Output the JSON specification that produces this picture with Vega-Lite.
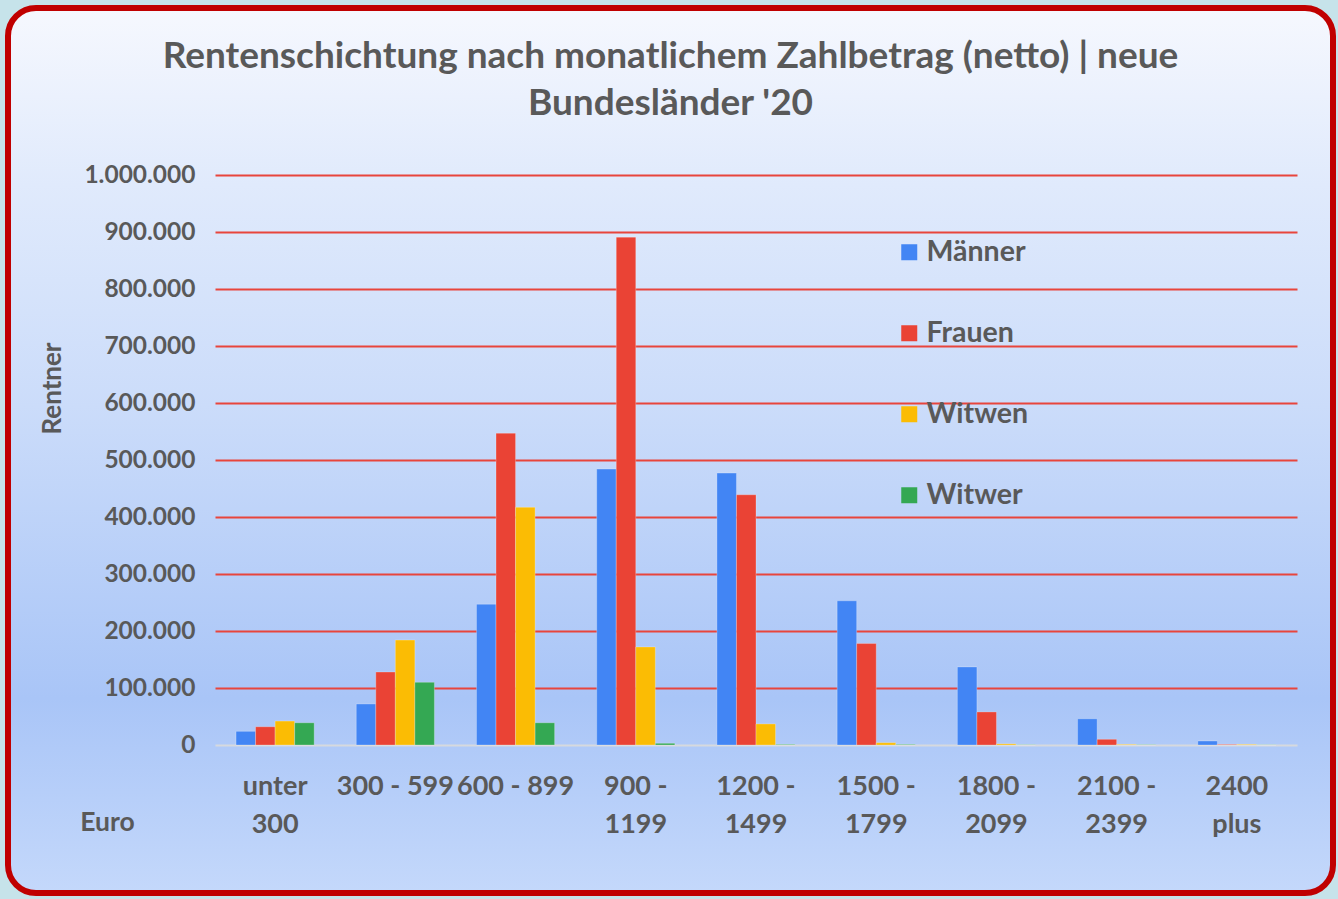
{
  "$schema": "https://vega.github.io/schema/vega-lite/v6.json",
  "width": 1325,
  "height": 885,
  "autosize": {"type": "none"},
  "padding": {"left": 8, "top": 8, "right": 5, "bottom": 6},
  "background": "#c6e3ea",
  "view": {
    "fill": {
      "gradient": "linear",
      "x1": 0, "y1": 0, "x2": 0, "y2": 1,
      "stops": [
        {"offset": 0, "color": "#f6f8fe"},
        {"offset": 0.2, "color": "#e0eafc"},
        {"offset": 0.45, "color": "#cbdcfa"},
        {"offset": 0.78, "color": "#a9c5f7"},
        {"offset": 1, "color": "#c4d8fb"}
      ]
    },
    "stroke": "#c00000",
    "strokeWidth": 6,
    "cornerRadius": 28
  },
  "title": {
    "text": ["Rentenschichtung nach monatlichem Zahlbetrag (netto) | neue", "Bundesländer '20"],
    "font": "Lato",
    "fontSize": 37,
    "fontWeight": "bold",
    "color": "#595959",
    "lineHeight": 47,
    "anchor": "middle",
    "frame": "group",
    "offset": -115
  },
  "data": {
    "values": [
      {"Betrag": "unter 300", "Gruppe": "Männer", "Anzahl": 24000},
      {"Betrag": "unter 300", "Gruppe": "Frauen", "Anzahl": 32000},
      {"Betrag": "unter 300", "Gruppe": "Witwen", "Anzahl": 42000},
      {"Betrag": "unter 300", "Gruppe": "Witwer", "Anzahl": 39000},
      {"Betrag": "300 - 599", "Gruppe": "Männer", "Anzahl": 72000},
      {"Betrag": "300 - 599", "Gruppe": "Frauen", "Anzahl": 128000},
      {"Betrag": "300 - 599", "Gruppe": "Witwen", "Anzahl": 184000},
      {"Betrag": "300 - 599", "Gruppe": "Witwer", "Anzahl": 110000},
      {"Betrag": "600 - 899", "Gruppe": "Männer", "Anzahl": 247000},
      {"Betrag": "600 - 899", "Gruppe": "Frauen", "Anzahl": 547000},
      {"Betrag": "600 - 899", "Gruppe": "Witwen", "Anzahl": 417000},
      {"Betrag": "600 - 899", "Gruppe": "Witwer", "Anzahl": 39000},
      {"Betrag": "900 - 1199", "Gruppe": "Männer", "Anzahl": 484000},
      {"Betrag": "900 - 1199", "Gruppe": "Frauen", "Anzahl": 891000},
      {"Betrag": "900 - 1199", "Gruppe": "Witwen", "Anzahl": 172000},
      {"Betrag": "900 - 1199", "Gruppe": "Witwer", "Anzahl": 3000},
      {"Betrag": "1200 - 1499", "Gruppe": "Männer", "Anzahl": 477000},
      {"Betrag": "1200 - 1499", "Gruppe": "Frauen", "Anzahl": 439000},
      {"Betrag": "1200 - 1499", "Gruppe": "Witwen", "Anzahl": 37000},
      {"Betrag": "1200 - 1499", "Gruppe": "Witwer", "Anzahl": 1000},
      {"Betrag": "1500 - 1799", "Gruppe": "Männer", "Anzahl": 253000},
      {"Betrag": "1500 - 1799", "Gruppe": "Frauen", "Anzahl": 178000},
      {"Betrag": "1500 - 1799", "Gruppe": "Witwen", "Anzahl": 4000},
      {"Betrag": "1500 - 1799", "Gruppe": "Witwer", "Anzahl": 1000},
      {"Betrag": "1800 - 2099", "Gruppe": "Männer", "Anzahl": 137000},
      {"Betrag": "1800 - 2099", "Gruppe": "Frauen", "Anzahl": 58000},
      {"Betrag": "1800 - 2099", "Gruppe": "Witwen", "Anzahl": 2000},
      {"Betrag": "1800 - 2099", "Gruppe": "Witwer", "Anzahl": 500},
      {"Betrag": "2100 - 2399", "Gruppe": "Männer", "Anzahl": 46000},
      {"Betrag": "2100 - 2399", "Gruppe": "Frauen", "Anzahl": 10000},
      {"Betrag": "2100 - 2399", "Gruppe": "Witwen", "Anzahl": 1000},
      {"Betrag": "2100 - 2399", "Gruppe": "Witwer", "Anzahl": 500},
      {"Betrag": "2400 plus", "Gruppe": "Männer", "Anzahl": 7000},
      {"Betrag": "2400 plus", "Gruppe": "Frauen", "Anzahl": 1000},
      {"Betrag": "2400 plus", "Gruppe": "Witwen", "Anzahl": 1000},
      {"Betrag": "2400 plus", "Gruppe": "Witwer", "Anzahl": 300}
    ]
  },
  "mark": {"type": "bar", "stroke": "#ffffff", "strokeOpacity": 0.25, "strokeWidth": 1},
  "encoding": {
    "x": {
      "field": "Betrag",
      "type": "nominal",
      "sort": null,
      "scale": {"range": [207, 1289], "paddingInner": 0.35, "paddingOuter": 0.175},
      "axis": {
        "orient": "bottom",
        "offset": -148,
        "title": "Euro",
        "titleX": 99,
        "titleY": 77,
        "titleAlign": "center",
        "titleBaseline": "middle",
        "titleFont": "Lato",
        "titleFontSize": 26.5,
        "titleFontWeight": "bold",
        "titleColor": "#595959",
        "domainColor": "#d6d9de",
        "domainWidth": 2,
        "ticks": false,
        "tickSize": 0,
        "grid": false,
        "labelAngle": 0,
        "labelPadding": 28,
        "labelFont": "Lato",
        "labelFontSize": 27,
        "labelFontWeight": "bold",
        "labelColor": "#595959",
        "labelLineHeight": 38,
        "labelBaseline": "top",
        "labelOverlap": false,
        "labelBound": false,
        "labelExpr": "datum.value === 'unter 300' ? ['unter', '300'] : datum.value === '2400 plus' ? ['2400', 'plus'] : (length(datum.value) > 9 ? [slice(datum.value, 0, indexof(datum.value, '-') + 1), slice(datum.value, indexof(datum.value, '-') + 2)] : datum.value)"
      }
    },
    "xOffset": {
      "field": "Gruppe",
      "type": "nominal",
      "sort": ["Männer", "Frauen", "Witwen", "Witwer"],
      "scale": {"paddingInner": 0, "paddingOuter": 0}
    },
    "y": {
      "field": "Anzahl",
      "type": "quantitative",
      "scale": {"domain": [0, 1000000], "range": [737, 167], "nice": false},
      "axis": {
        "orient": "left",
        "offset": -207,
        "values": [0, 100000, 200000, 300000, 400000, 500000, 600000, 700000, 800000, 900000, 1000000],
        "labelExpr": "replace(format(datum.value, ','), /,/g, '.')",
        "domain": false,
        "ticks": false,
        "tickSize": 0,
        "labelPadding": 20,
        "labelFont": "Lato",
        "labelFontSize": 24.5,
        "labelFontWeight": "bold",
        "labelColor": "#595959",
        "grid": true,
        "gridColor": {"condition": {"test": "datum.value === 0", "value": "transparent"}, "value": "#e8453c"},
        "gridWidth": 2,
        "title": "Rentner",
        "titleX": -163,
        "titleY": 380,
        "titleAngle": -90,
        "titleAlign": "center",
        "titleBaseline": "middle",
        "titleFont": "Lato",
        "titleFontSize": 26,
        "titleFontWeight": "bold",
        "titleColor": "#595959"
      }
    },
    "color": {
      "field": "Gruppe",
      "type": "nominal",
      "scale": {
        "domain": ["Männer", "Frauen", "Witwen", "Witwer"],
        "range": ["#4285f4", "#ea4335", "#fbbc04", "#34a853"]
      },
      "legend": {
        "orient": "none",
        "legendX": 887,
        "legendY": 230,
        "title": null,
        "symbolType": "square",
        "symbolSize": 256,
        "symbolStrokeWidth": 0,
        "symbolOpacity": 1,
        "labelFont": "Lato",
        "labelFontSize": 28.5,
        "labelFontWeight": "bold",
        "labelColor": "#595959",
        "labelOffset": 3,
        "rowPadding": 52
      }
    }
  },
  "config": {
    "axis": {"gridCap": "butt"}
  }
}
